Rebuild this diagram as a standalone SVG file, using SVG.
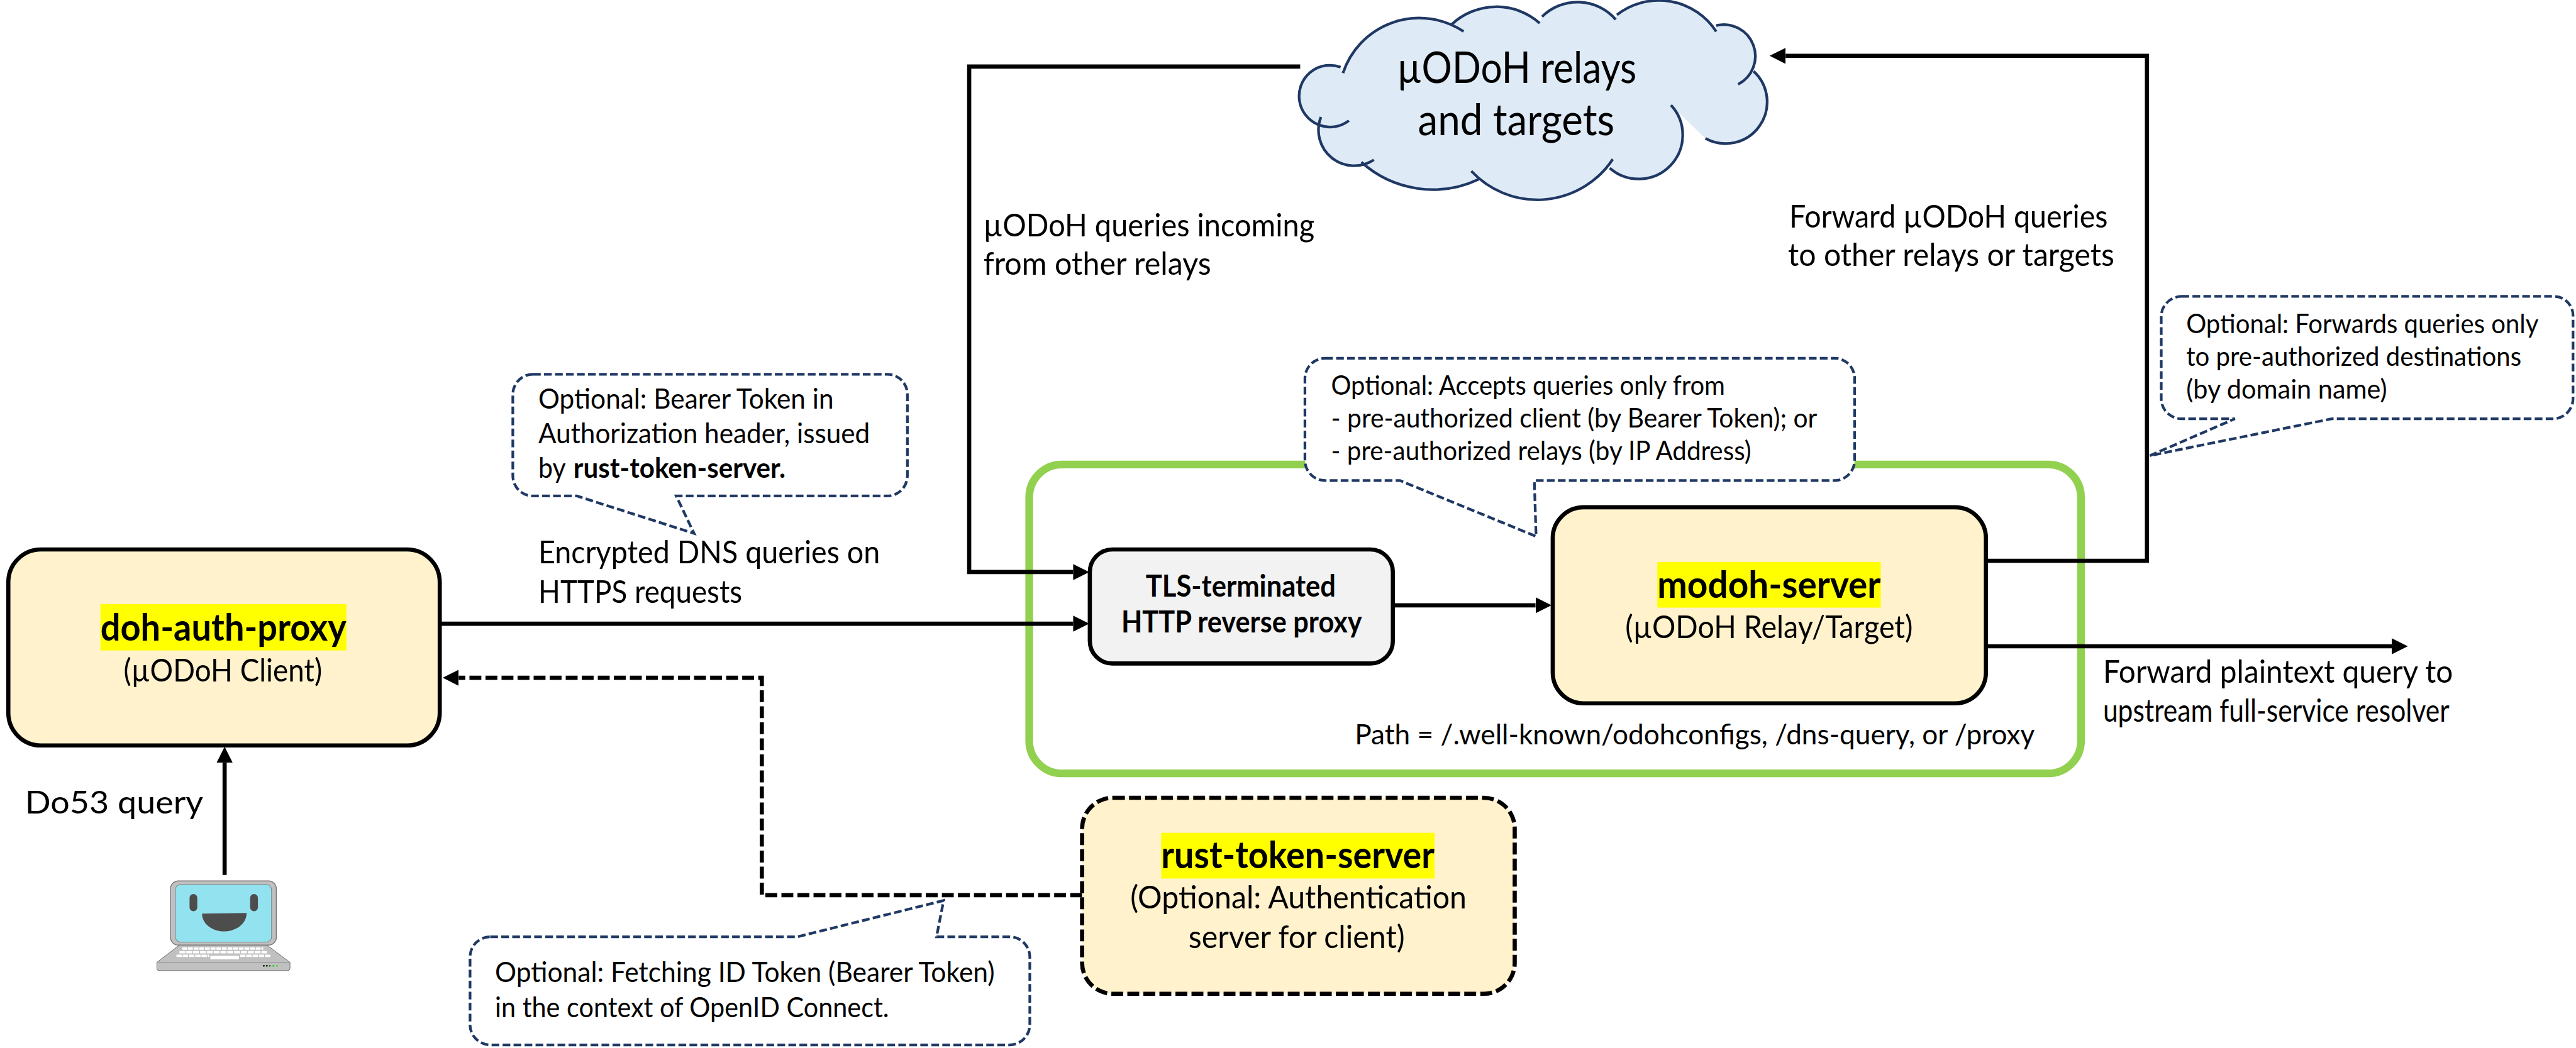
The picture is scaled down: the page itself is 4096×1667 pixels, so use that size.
<svg xmlns="http://www.w3.org/2000/svg" width="4096" height="1667" viewBox="0 0 4096 1667">
<style>
text{font-family:Lato,"Liberation Sans",sans-serif;fill:#000}
.b{font-weight:700}
.name{font-size:62px;font-weight:700}
.lab{font-size:54px}
.note{font-size:47px}
.note2{font-size:45px}
.box{fill:#FFF2CC;stroke:#000;stroke-width:7}
.hl{fill:#FFFF00}
.call{fill:#fff;stroke:#1F3864;stroke-width:4.5;stroke-dasharray:13 5.5}
.line{fill:none;stroke:#000;stroke-width:7}
.dash{stroke-dasharray:20 7}
</style>
<defs>
<marker id="ah" markerUnits="userSpaceOnUse" markerWidth="28" markerHeight="28" refX="0" refY="14" orient="auto" viewBox="0 0 28 28"><path d="M0 0.5L27 14L0 27.5Z" fill="#000"/></marker>
</defs>
<rect width="4096" height="1667" fill="#fff"/>
<g transform="scale(0.94487)">
<g id="trust-boundary"><rect x="1732" y="782" width="1770" height="520" rx="55" ry="55" fill="none" stroke="#92D050" stroke-width="13"/></g>
<g id="connectors">
<path class="line" d="M740 1050H1806" marker-end="url(#ah)"/>
<path class="line" d="M2188 112H1631V963H1806" marker-end="url(#ah)"/>
<path class="line" d="M2344 1019H2584" marker-end="url(#ah)"/>
<path class="line" d="M3342 944H3613V94H3005" marker-end="url(#ah)"/>
<path class="line" d="M3342 1088H4025" marker-end="url(#ah)"/>
<path class="line" d="M378 1473V1284" marker-end="url(#ah)"/>
<path class="line dash" d="M1821 1507H1282V1141H772" marker-end="url(#ah)"/>
</g>
<g id="cloud">
<path fill="#DEEAF6" d="M2260 123A135 135 0 0 1 2463 53L2443 41A110 110 0 0 1 2591 39L2595 28A85 85 0 0 1 2719 33L2721 25A115 115 0 0 1 2888 53L2888 43A53.2 53.2 0 0 1 2925 142L2951 120A70 70 0 0 1 2870 233L2812 177A74 74 0 0 1 2709 283L2714 268A152 152 0 0 1 2476 288L2488 302A180 180 0 0 1 2291 273L2312 269A60 60 0 0 1 2223 197L2270 203A52 52 0 1 1 2256 113Z"/>
<path fill="none" stroke="#1F3864" stroke-width="4.5" d="M2260 123A135 135 0 0 1 2463 53M2443 41A110 110 0 0 1 2591 39M2595 28A85 85 0 0 1 2719 33M2721 25A115 115 0 0 1 2888 53M2888 43A53.2 53.2 0 0 1 2925 142M2951 120A70 70 0 0 1 2870 233M2812 177A74 74 0 0 1 2709 283M2714 268A152 152 0 0 1 2476 288M2488 302A180 180 0 0 1 2291 273M2312 269A60 60 0 0 1 2223 197M2270 203A52 52 0 1 1 2256 113"/>
<text x="2351" y="140" font-size="74" textLength="403" lengthAdjust="spacingAndGlyphs">µODoH relays</text>
<text x="2386" y="228" font-size="74" textLength="331" lengthAdjust="spacingAndGlyphs">and targets</text>
</g>
<g id="doh-auth-proxy">
<rect class="box" x="14" y="925" width="726" height="330" rx="55"/>
<rect class="hl" x="169" y="1017" width="414" height="78"/>
<text class="name" x="169" y="1078" textLength="414" lengthAdjust="spacingAndGlyphs">doh-auth-proxy</text>
<text class="lab" x="208" y="1147" textLength="334" lengthAdjust="spacingAndGlyphs">(µODoH Client)</text>
</g>
<g id="laptop">
<path d="M302 1591H449L488 1620V1630Q488 1634 484 1634H268Q264 1634 264 1630V1620Z" fill="#C0C0C0" stroke="#666" stroke-width="1"/>
<path d="M264 1620H488" stroke="#888" stroke-width="1"/>
<rect x="287" y="1483" width="178" height="108" rx="13" fill="#C0C0C0" stroke="#777" stroke-width="1.5"/>
<rect x="295" y="1489" width="162" height="97" rx="9" fill="#92E3EF" stroke="#777" stroke-width="1"/>
<rect x="319" y="1505" width="13" height="29" rx="6.5" fill="#4D4D4D"/>
<rect x="421" y="1505" width="13" height="29" rx="6.5" fill="#4D4D4D"/>
<path d="M340 1538L415 1537C415 1556 396 1568 377 1568C358 1568 340 1556 340 1538Z" fill="#4D4D4D"/>
<g fill="none" stroke="#fff" stroke-width="4">
<path d="M307 1597H443" stroke-dasharray="8 1.5"/>
<path d="M302 1603H449" stroke-dasharray="10 1.5"/>
<path d="M297 1609H352M404 1609H456" stroke-dasharray="9 1.5"/>
</g>
<rect x="354" y="1609" width="48" height="6" fill="#fff"/>
<circle cx="444" cy="1626" r="1.5" fill="#000"/><circle cx="449" cy="1626" r="1.5" fill="#000"/><circle cx="454" cy="1626" r="1.5" fill="#0A7A0A"/><circle cx="460" cy="1626" r="1.5" fill="#22C022"/><circle cx="466" cy="1626" r="1.5" fill="#22E022"/>
</g>
<g id="tls-proxy">
<rect x="1834" y="925" width="510" height="192" rx="38" fill="#F2F2F2" stroke="#000" stroke-width="7"/>
<text x="1928" y="1004" class="b" font-size="50" textLength="320" lengthAdjust="spacingAndGlyphs">TLS-terminated</text>
<text x="1887" y="1065" class="b" font-size="50" textLength="405" lengthAdjust="spacingAndGlyphs">HTTP reverse proxy</text>
</g>
<g id="modoh-server">
<rect class="box" x="2613" y="854" width="729" height="330" rx="52"/>
<rect class="hl" x="2789" y="946" width="376" height="77"/>
<text class="name" x="2789" y="1007" textLength="376" lengthAdjust="spacingAndGlyphs">modoh-server</text>
<text class="lab" x="2735" y="1074" textLength="484" lengthAdjust="spacingAndGlyphs">(µODoH Relay/Target)</text>
</g>
<g id="rust-token-server">
<rect class="box dash" x="1821" y="1343" width="728" height="330" rx="52"/>
<rect class="hl" x="1954" y="1402" width="460" height="77"/>
<text class="name" x="1954" y="1462" textLength="460" lengthAdjust="spacingAndGlyphs">rust-token-server</text>
<text class="lab" x="1902" y="1529" textLength="566" lengthAdjust="spacingAndGlyphs">(Optional: Authentication</text>
<text class="lab" x="2000" y="1596" textLength="364" lengthAdjust="spacingAndGlyphs">server for client)</text>
</g>
<g id="callout-token">
<path class="call" d="M897 630H1493A34 34 0 0 1 1527 664V801A34 34 0 0 1 1493 835H1138L1168 898L971 835H897A34 34 0 0 1 863 801V664A34 34 0 0 1 897 630Z"/>
<text class="note" x="906" y="688" textLength="497" lengthAdjust="spacingAndGlyphs">Optional: Bearer Token in</text>
<text class="note" x="906" y="746" textLength="558" lengthAdjust="spacingAndGlyphs">Authorization header, issued</text>
<text class="note" x="906" y="804" textLength="46" lengthAdjust="spacingAndGlyphs">by</text>
<text class="note b" x="965" y="804" textLength="357" lengthAdjust="spacingAndGlyphs">rust-token-server.</text>
</g>
<g id="callout-accepts">
<path class="call" d="M2230 603H3087A34 34 0 0 1 3121 637V775A34 34 0 0 1 3087 809H2582L2585 903L2356 809H2230A34 34 0 0 1 2196 775V637A34 34 0 0 1 2230 603Z"/>
<text class="note2" x="2240" y="665" textLength="663" lengthAdjust="spacingAndGlyphs">Optional: Accepts queries only from</text>
<text class="note2" x="2240" y="720" textLength="818" lengthAdjust="spacingAndGlyphs">- pre-authorized client (by Bearer Token); or</text>
<text class="note2" x="2240" y="775" textLength="707" lengthAdjust="spacingAndGlyphs">- pre-authorized relays (by IP Address)</text>
</g>
<g id="callout-forwards">
<path class="call" d="M3671 499H4298A32 32 0 0 1 4330 531V671A34 34 0 0 1 4296 705H3924L3618 767L3761 705H3671A34 34 0 0 1 3637 671V533A34 34 0 0 1 3671 499Z"/>
<text class="note2" x="3679" y="561" textLength="593" lengthAdjust="spacingAndGlyphs">Optional: Forwards queries only</text>
<text class="note2" x="3679" y="616" textLength="564" lengthAdjust="spacingAndGlyphs">to pre-authorized destinations</text>
<text class="note2" x="3679" y="671" textLength="338" lengthAdjust="spacingAndGlyphs">(by domain name)</text>
</g>
<g id="callout-fetching">
<path class="call" d="M825 1577H1342L1588 1516L1576 1577H1699A34 34 0 0 1 1733 1611V1725A34 34 0 0 1 1699 1759H825A34 34 0 0 1 791 1725V1611A34 34 0 0 1 825 1577Z"/>
<text class="note" x="833" y="1653" textLength="841" lengthAdjust="spacingAndGlyphs">Optional: Fetching ID Token (Bearer Token)</text>
<text class="note" x="833" y="1712" textLength="663" lengthAdjust="spacingAndGlyphs">in the context of OpenID Connect.</text>
</g>
<g id="labels">
<text class="lab" x="42" y="1369" textLength="300" lengthAdjust="spacingAndGlyphs">Do53 query</text>
<text class="lab" x="906" y="948" textLength="575" lengthAdjust="spacingAndGlyphs">Encrypted DNS queries on</text>
<text class="lab" x="906" y="1015" textLength="343" lengthAdjust="spacingAndGlyphs">HTTPS requests</text>
<text class="lab" x="1655" y="398" textLength="557" lengthAdjust="spacingAndGlyphs">µODoH queries incoming</text>
<text class="lab" x="1655" y="463" textLength="383" lengthAdjust="spacingAndGlyphs">from other relays</text>
<text class="lab" x="3011" y="383" textLength="536" lengthAdjust="spacingAndGlyphs">Forward µODoH queries</text>
<text class="lab" x="3009" y="448" textLength="549" lengthAdjust="spacingAndGlyphs">to other relays or targets</text>
<text class="lab" x="3539" y="1149" textLength="589" lengthAdjust="spacingAndGlyphs">Forward plaintext query to</text>
<text class="lab" x="3539" y="1215" textLength="583" lengthAdjust="spacingAndGlyphs">upstream full-service resolver</text>
<text class="note" x="2280" y="1253" textLength="1144" lengthAdjust="spacingAndGlyphs">Path = /.well-known/odohconfigs, /dns-query, or /proxy</text>
</g>
</g>
</svg>
